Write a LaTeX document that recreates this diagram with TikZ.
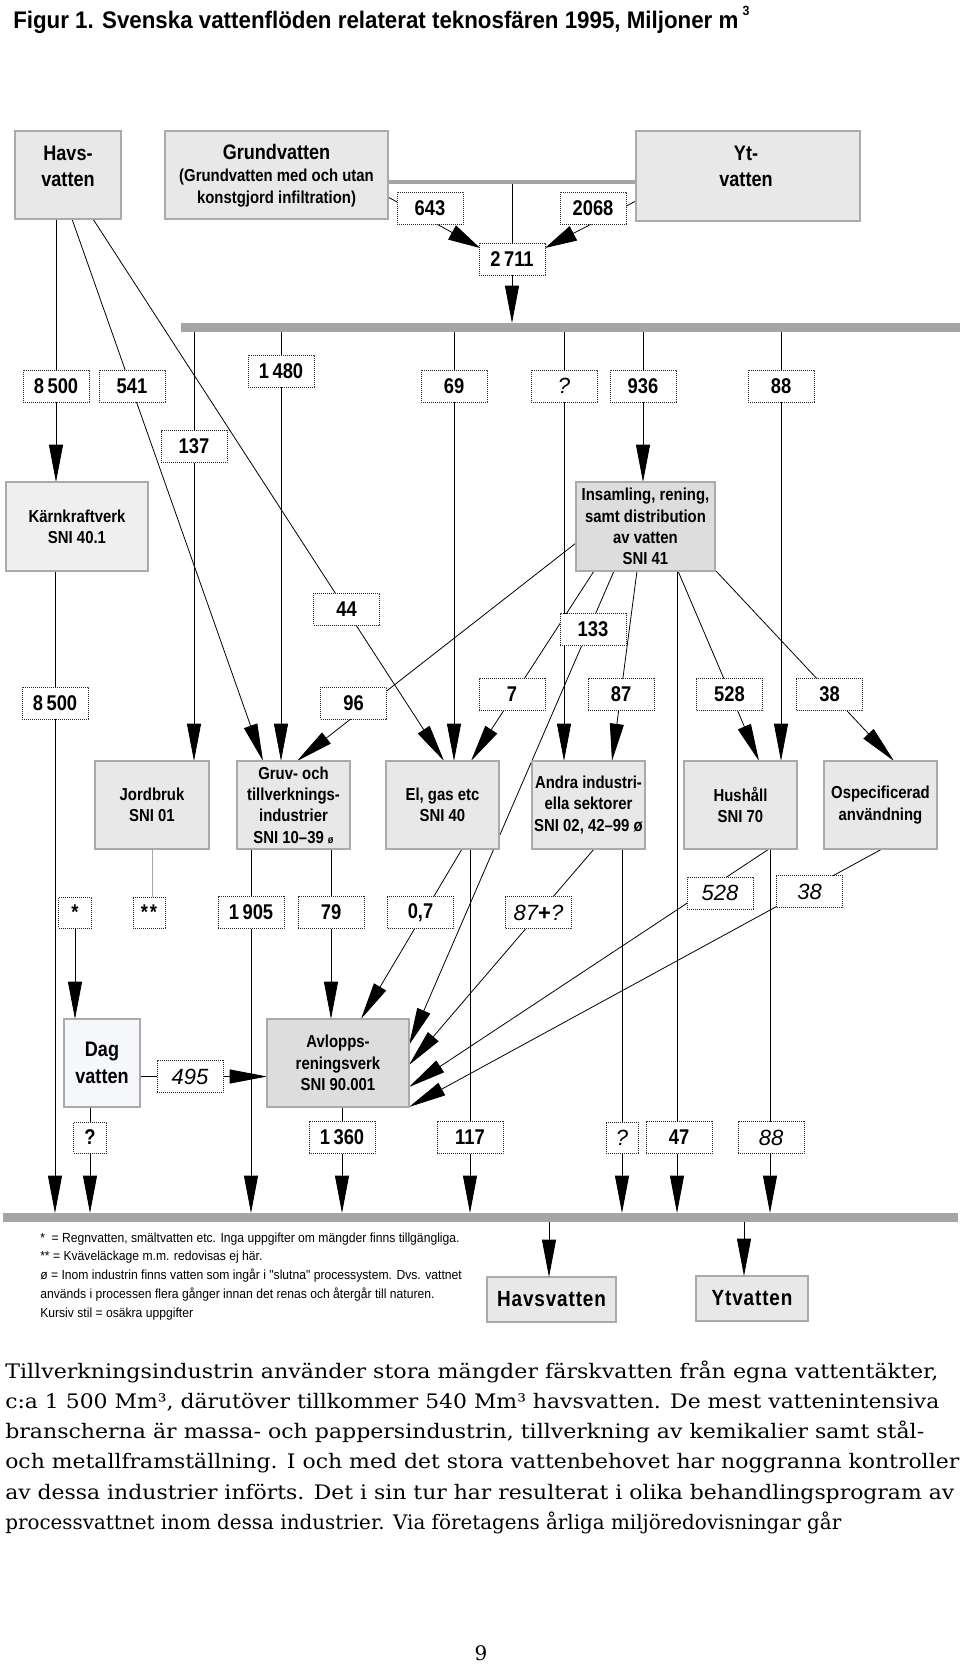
\documentclass[tikz,border=0pt]{standalone}
\usepackage{graphicx}
\usepackage{fontspec}
\setmainfont{Liberation Sans}
\newfontfamily\cond[FakeStretch=0.86]{Liberation Sans}
\newfontfamily\titlef[FakeStretch=0.93]{Liberation Sans}
\newfontfamily\footf[FakeStretch=0.92]{Liberation Sans}
\newfontfamily\parf{DejaVu Serif}
\usetikzlibrary{arrows.meta,calc}
\pgfdeclarelayer{bg}
\pgfsetlayers{bg,main}
\definecolor{gfill}{RGB}{232,232,232}
\definecolor{gfilld}{RGB}{221,221,221}
\definecolor{gfilll}{RGB}{239,239,239}
\definecolor{gedge}{RGB}{170,170,170}
\definecolor{barc}{RGB}{165,165,165}
\definecolor{dagfill}{RGB}{245,247,251}
\tikzset{
 sz/.style 2 args={minimum width=#1*0.75pt, minimum height=#2*0.75pt},
 gbox/.style={draw=gedge, line width=1.1pt, fill=gfill, inner sep=0pt, outer sep=0pt, align=center,
   font=\cond\bfseries\fontsize{13pt}{16pt}\selectfont},
 nbox/.style={draw=black!85, dash pattern=on 0.7pt off 0.8pt, line width=0.6pt, fill=white,
   inner sep=0pt, outer sep=0pt, minimum width=66*0.75pt, minimum height=32*0.75pt,
   font=\cond\bfseries\fontsize{16pt}{18pt}\selectfont},
 ibox/.style={nbox, font=\itshape\fontsize{16.5pt}{18pt}\selectfont},
 tlbl/.style={inner sep=0pt, align=center, font=\cond\bfseries\fontsize{15.75pt}{20pt}\selectfont},
 slbl/.style={inner sep=0pt, align=center, font=\cond\bfseries\fontsize{13pt}{16.5pt}\selectfont},
 blbl/.style={font=\cond\bfseries\fontsize{16.5pt}{18pt}\selectfont\addfontfeature{LetterSpace=4}},
 ln/.style={line width=0.6pt, black},
 arr/.style={ln, -{Triangle[length=28pt,width=10.5pt]}},
 arrs/.style={ln, -{Triangle[length=24pt,width=12pt]}},
 bar/.style={fill=barc, draw=none, inner sep=0pt, outer sep=0pt},
 foot/.style={anchor=base west, inner sep=0pt, font=\footf\fontsize{9.9pt}{11pt}\selectfont},
 para/.style={anchor=base west, inner sep=0pt, font=\parf\fontsize{15pt}{18pt}\selectfont},
}
\newcommand\fitline[2]{\resizebox{#1}{\height}{#2}}
\begin{document}
\begin{tikzpicture}[x=0.75pt,y=-0.75pt]
\begin{pgfonlayer}{bg}
\fill[white] (0,0) rectangle (960,1665);
\end{pgfonlayer}
\useasboundingbox (0,0) rectangle (960,1665);

% title
\node[anchor=base west, inner sep=0pt, font=\titlef\bfseries\fontsize{18pt}{20pt}\selectfont] (title) at (13,29)
  {Figur 1. Svenska vattenflöden relaterat teknosfären 1995, Miljoner m\,\raisebox{9.75pt}{\fontsize{10pt}{10pt}\selectfont 3}};

% bars
\node[bar, sz={248}{4}] (topbar) at (512,182) {};
\node[bar, sz={779}{9}] (bigbar) at (570.5,327.5) {};
\node[bar, sz={955}{9}] (botbar) at (480.5,1217.5) {};

% top boxes
\node[gbox, sz={106}{88}] (havTop) at (68,175) {};
\node[gbox, sz={223}{88}] (grund) at (276.5,175) {};
\node[gbox, sz={224}{90}] (yt) at (748,176) {};
\node[tlbl] (havTopL) at (68,166.5) {Havs-\\vatten};
\node[tlbl] (grundL) at (276.5,152) {Grundvatten};
\node[slbl] (grundS) at (276.5,188.5) {(Grundvatten med och utan\\konstgjord infiltration)};
\node[tlbl] (ytL) at (746,166.5) {Yt-\\vatten};

% number boxes, upper part
\node[nbox] (n643) at (430,208.5) {643};
\node[nbox] (n2068) at (593,208) {2068};
\node[nbox] (n2711) at (512,259) {2\,711};
\node[nbox] (n8500a) at (56,386) {8\,500};
\node[nbox] (n541) at (132,386) {541};
\node[nbox] (n1480) at (281,371) {1\,480};
\node[nbox] (n69) at (454,386) {69};
\node[ibox] (nq1) at (564,386) {?};
\node[nbox] (n936) at (643,386) {936};
\node[nbox] (n88a) at (781,386) {88};
\node[nbox] (n137) at (194,446.5) {137};

% middle boxes
\node[gbox, fill=gfilll, sz={142}{89}] (kk) at (77,526.5) {Kärnkraftverk\\SNI 40.1};
\node[gbox, fill=gfilld, sz={139}{89}] (ins) at (645.5,526.5) {Insamling, rening,\\samt distribution\\av vatten\\SNI 41};

\node[nbox] (n44) at (346.5,609) {44};
\node[nbox] (n133) at (593,629.5) {133};
\node[nbox] (n8500b) at (55,703) {8\,500};
\node[nbox] (n96) at (353.5,703) {96};
\node[nbox] (n7) at (512,694.5) {7};
\node[nbox] (n87) at (621,694.5) {87};
\node[nbox] (n528a) at (729.5,694.5) {528};
\node[nbox] (n38a) at (829.5,694.5) {38};

% row of sectors
\node[gbox, sz={114}{88}] (jord) at (152,805) {Jordbruk\\SNI 01};
\node[gbox, sz={113}{88}] (gruv) at (293.5,805) {Gruv- och\\tillverknings-\\industrier\\SNI 10–39 {\fontsize{8pt}{8pt}\selectfont ø}};
\node[gbox, sz={113}{88}] (elgas) at (442.5,805) {El, gas etc\\SNI 40};
\node[gbox, sz={113}{88}] (andra) at (588.5,805) {Andra industri-\\ella sektorer\\SNI 02, 42–99 ø};
\node[gbox, sz={113}{88}] (hush) at (740.5,805) {Hushåll\\SNI 70};
\node[gbox, sz={113}{88}] (osp) at (880.5,805) {Ospecificerad\\användning};

% second number row
\node[nbox, sz={33}{31}] (nstar) at (75,912.5) {*};
\node[nbox, sz={32}{31}] (nstar2) at (149,912.5) {*\kern1.5pt*};
\node[nbox] (n1905) at (251,912.5) {1\,905};
\node[nbox] (n79) at (331,912.5) {79};
\node[nbox] (n07) at (420.5,912.5) {0,7};
\node[ibox] (n87q) at (538.5,912.5) {87{\upshape\bfseries +}?};
\node[ibox] (n528b) at (720,893) {528};
\node[ibox] (n38b) at (809.5,891.5) {38};

% lower boxes
\node[gbox, fill=dagfill, sz={76}{88}, font=\cond\bfseries\fontsize{15.75pt}{20pt}\selectfont] (dag) at (102,1063) {Dag\\vatten};
\node[gbox, fill=gfilld, sz={142}{88}] (avl) at (338,1063) {Avlopps-\\reningsverk\\SNI 90.001};
\node[ibox] (n495) at (190,1076.5) {495};
\node[nbox, sz={33}{31}] (nq2) at (90,1137.5) {?};
\node[nbox] (n1360) at (342,1137.5) {1\,360};
\node[nbox] (n117) at (470,1137.5) {117};
\node[ibox, sz={32}{31}] (nq3) at (622,1137.5) {?};
\node[nbox] (n47) at (679,1137.5) {47};
\node[ibox] (n88b) at (771,1137.5) {88};

\node[gbox, sz={129}{45}, blbl] (havBot) at (551.5,1299.5) {Havsvatten};
\node[gbox, sz={112}{45}, blbl] (ytBot) at (752,1298.5) {Ytvatten};
\coordinate (havIn) at ($(havBot.north west)+(62,0)$);
\coordinate (ytIn) at ($(ytBot.north west)+(48,0)$);

% connectors
\begin{pgfonlayer}{bg}
\draw[arrs] ($(grund.south east)+(0,-22)$) -- ($(n2711.north west)+(1,5)$);
\draw[arrs] ($(yt.north west)+(0,70)$) -- ($(n2711.north east)+(0,5)$);
\draw[ln] (n2711 |- topbar.south) -- (n2711.north);
\draw[arr] (n2711.south) -- (n2711 |- bigbar.north);

\draw[arr] (havTop.south -| n8500a) -- (kk.north -| n8500a);
\draw[arr] ($(havTop.south west)+(57,0)$) -- ($(gruv.north west)+(26,0)$);
\draw[arr] ($(havTop.south west)+(78,0)$) -- ($(elgas.north west)+(58,0)$);

\draw[arr] (kk.south -| n8500b) -- (n8500b |- botbar.north);
\draw[arr] (n137 |- bigbar.south) -- (n137 |- jord.north);
\draw[arr] (n1480 |- bigbar.south) -- (n1480 |- gruv.north);
\draw[arr] (n69 |- bigbar.south) -- (n69 |- elgas.north);
\draw[arr] (nq1 |- bigbar.south) -- (nq1 |- andra.north);
\draw[arr] (n936 |- bigbar.south) -- (n936 |- ins.north);
\draw[arr] (n88a |- bigbar.south) -- (n88a |- hush.north);

\draw[arr] ($(ins.north west)+(0,61)$) -- ($(gruv.north west)+(60,0)$);
\draw[arr] ($(ins.south west)+(18,0)$) -- ($(elgas.north west)+(85,0)$);
\draw[arr] ($(ins.south west)+(38,0)$) -- ($(avl.north east)+(0,26)$);
\draw[arr] ($(ins.south west)+(61,0)$) -- ($(andra.north west)+(80,0)$);
\draw[arr] ($(ins.south west)+(101,0)$) -- ($(botbar.north west)+(674,0)$);
\draw[arr] ($(ins.south west)+(102,0)$) -- ($(hush.north west)+(75,0)$);
\draw[arr] ($(ins.south west)+(140,0)$) -- ($(osp.north west)+(70,0)$);

\draw[line width=0.6pt, black!35] (jord.south) -- (jord.south |- nstar2.north);
\draw[arr] (n1905 |- gruv.south) -- (n1905 |- botbar.north);
\draw[arr] (n79 |- gruv.south) -- (n79 |- avl.north);
\draw[arr] ($(elgas.south west)+(76,0)$) -- ($(avl.north west)+(94,0)$);
\draw[arr] (n117 |- elgas.south) -- (n117 |- botbar.north);
\draw[arr] ($(andra.south west)+(62,0)$) -- ($(avl.north east)+(0,46)$);
\draw[arr] (nq3 |- andra.south) -- (nq3 |- botbar.north);
\draw[arr] ($(hush.south west)+(85,0)$) -- ($(avl.north east)+(0,68)$);
\draw[arr] ($(hush.south west)+(86,0)$) -- ($(botbar.north west)+(767,0)$);
\draw[arr] ($(osp.south west)+(58,0)$) -- (avl.south east);

\draw[arr] (nstar.south) -- (nstar |- dag.north);
\draw[ln] (dag.east |- n495) -- (n495.west);
\draw[arr] (n495.east) -- (avl.west |- n495);
\draw[arr] (nq2 |- dag.south) -- (nq2 |- botbar.north);
\draw[arr] (n1360 |- avl.south) -- (n1360 |- botbar.north);
\end{pgfonlayer}
\draw[arr] (havIn |- botbar.south) -- (havIn);
\draw[arr] (ytIn |- botbar.south) -- (ytIn);

% footnotes
\node[foot] (f1) at (40,1242) {*\ \ = Regnvatten, smältvatten etc. Inga uppgifter om mängder finns tillgängliga.};
\node[foot] (f2) at (40,1260) {** = Kväveläckage m.m. redovisas ej här.};
\node[foot] (f3) at (40,1279) {ø = Inom industrin finns vatten som ingår i "slutna" processystem. Dvs. vattnet};
\node[foot] (f4) at (40,1298) {används i processen flera gånger innan det renas och återgår till naturen.};
\node[foot] (f5) at (40,1317) {Kursiv stil = osäkra uppgifter};

% body text
\node[para] (p1) at (5,1378) {\fitline{699.75pt}{Tillverkningsindustrin använder stora mängder färskvatten från egna vattentäkter,}};
\node[para] (p2) at (5,1408) {\fitline{700.5pt}{c:a 1 500 Mm³, därutöver tillkommer 540 Mm³ havsvatten. De mest vattenintensiva}};
\node[para] (p3) at (5,1438) {\fitline{689.25pt}{branscherna är massa- och pappersindustrin, tillverkning av kemikalier samt stål-}};
\node[para] (p4) at (5,1468) {\fitline{715.5pt}{och metallframställning. I och med det stora vattenbehovet har noggranna kontroller}};
\node[para] (p5) at (5,1499) {\fitline{711.75pt}{av dessa industrier införts. Det i sin tur har resulterat i olika behandlingsprogram av}};
\node[para] (p6) at (5,1529) {\fitline{627pt}{processvattnet inom dessa industrier. Via företagens årliga miljöredovisningar går}};
\node[para, anchor=base] (pnum) at (481,1660) {9};
\end{tikzpicture}
\end{document}
